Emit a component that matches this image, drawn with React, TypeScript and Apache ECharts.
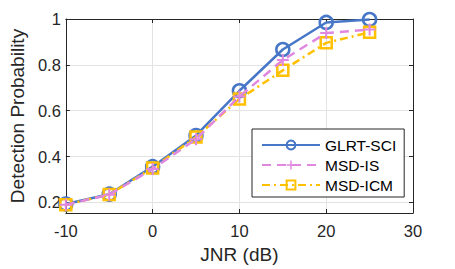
import React, { useEffect, useRef } from "react";
import * as echarts from "echarts";

const jnr = [-10, -5, 0, 5, 10, 15, 20, 25];
const glrtSci = [0.193, 0.236, 0.356, 0.492, 0.687, 0.867, 0.985, 0.998];
const msdIs = [0.19, 0.234, 0.346, 0.476, 0.662, 0.821, 0.939, 0.954];
const msdIcm = [0.19, 0.235, 0.35, 0.485, 0.651, 0.776, 0.896, 0.942];
const yTicks = [0.2, 0.4, 0.6, 0.8, 1];
const seriesNames = ["GLRT-SCI", "MSD-IS", "MSD-ICM"];

const FONT = "'Liberation Sans', Arial, Helvetica, sans-serif";
const AX = "#262626";
const PLUS = "path://M5,0H7V5H12V7H7V12H5V7H0V5H5Z";

export default function App() {
  const ref = useRef<HTMLDivElement>(null);
  useEffect(() => {
    if (!ref.current) return;
    const chart = echarts.init(ref.current, null, { renderer: "svg" });
    const pair = (ys: number[]) => jnr.map((x, i) => [x, ys[i]]);
    const yAxisBase = {
      type: "value",
      min: 0.154,
      max: 1,
      axisLine: { show: true, onZero: false, lineStyle: { color: AX, width: 1 } },
      axisTick: { show: true, inside: true, length: 4, lineStyle: { color: AX }, customValues: yTicks },
    };
    chart.setOption({
      animation: false,
      backgroundColor: "#fff",
      grid: { left: 59, right: 42, top: 19, bottom: 54 },
      xAxis: [
        {
          type: "value",
          min: -10,
          max: 30,
          interval: 10,
          name: "JNR (dB)",
          nameLocation: "middle",
          nameGap: 32,
          nameTextStyle: { fontFamily: FONT, fontSize: 19, color: AX },
          axisLine: { show: true, onZero: false, lineStyle: { color: AX, width: 1 } },
          axisTick: { show: true, inside: true, length: 4, lineStyle: { color: AX } },
          axisLabel: { fontFamily: FONT, fontSize: 16.5, color: AX, margin: 9 },
          splitLine: { show: true, lineStyle: { color: "#e3e3e3", width: 1 } },
        },
        {
          type: "value",
          position: "top",
          min: -10,
          max: 30,
          interval: 10,
          axisLine: { show: true, onZero: false, lineStyle: { color: AX, width: 1 } },
          axisTick: { show: true, inside: true, length: 4, lineStyle: { color: AX } },
          axisLabel: { show: false },
          splitLine: { show: false },
        },
      ],
      yAxis: [
        {
          ...yAxisBase,
          name: "Detection Probability",
          nameLocation: "middle",
          nameGap: 33,
          nameTextStyle: { fontFamily: FONT, fontSize: 19, color: AX },
          axisLabel: {
            fontFamily: FONT,
            fontSize: 16.5,
            color: AX,
            margin: 5,
            customValues: yTicks,
            formatter: (v: number) => String(Math.round(v * 10) / 10),
          },
          splitLine: { show: true, lineStyle: { color: "#e3e3e3", width: 1 } },
        },
        {
          ...yAxisBase,
          position: "right",
          axisLabel: { show: false },
          splitLine: { show: false },
        },
      ],
      legend: {
        orient: "vertical",
        left: 252,
        top: 129,
        padding: [6, 8, 2, 9],
        itemGap: 0,
        itemWidth: 58,
        itemHeight: 11,
        backgroundColor: "#fff",
        borderColor: AX,
        borderWidth: 1,
        borderRadius: 0,
        textStyle: { fontFamily: FONT, fontSize: 15.5, color: "#000", lineHeight: 20 },
        data: seriesNames,
      },
      series: [
        {
          name: seriesNames[2],
          type: "line",
          data: pair(msdIcm),
          z: 3,
          symbol: "rect",
          symbolSize: 11,
          lineStyle: { color: "#FFC000", width: 2.5, type: [8, 4, 2, 4] },
          itemStyle: { color: "rgba(0,0,0,0)", borderColor: "#FFC000", borderWidth: 2.5 },
        },
        {
          name: seriesNames[1],
          type: "line",
          data: pair(msdIs),
          z: 4,
          symbol: PLUS,
          symbolSize: 12,
          lineStyle: { color: "#E088E0", width: 2.5, type: [9, 6] },
          itemStyle: { color: "#E088E0" },
        },
        {
          name: seriesNames[0],
          type: "line",
          data: pair(glrtSci),
          z: 2,
          symbol: "circle",
          symbolSize: 13,
          lineStyle: { color: "#4877C8", width: 2.5 },
          itemStyle: { color: "rgba(0,0,0,0)", borderColor: "#4877C8", borderWidth: 2.5 },
        },
      ],
    });
    return () => chart.dispose();
  }, []);
  return (
    <div
      ref={ref}
      style={{ position: "fixed", left: 0, top: 0, width: 455, height: 269 }}
    />
  );
}
